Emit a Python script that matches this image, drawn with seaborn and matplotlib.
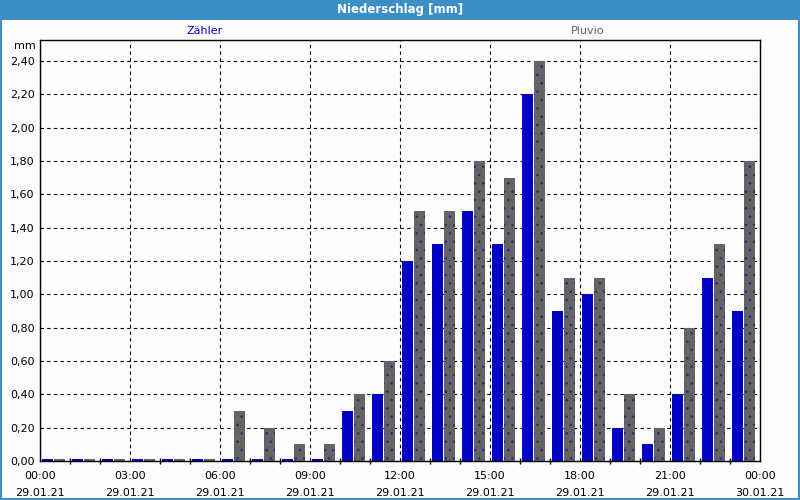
import matplotlib
matplotlib.use("Agg")
import matplotlib.pyplot as plt
from matplotlib.patches import Rectangle
from matplotlib.ticker import FixedLocator, MultipleLocator, FuncFormatter
import seaborn as sns
import pandas as pd
import numpy as np

# ---- data ----
hours = list(range(24))
zaehler = [0.01, 0.01, 0.01, 0.01, 0.01, 0.01, 0.01, 0.01, 0.01, 0.01,
           0.3, 0.4, 1.2, 1.3, 1.5, 1.3, 2.2, 0.9, 1.0, 0.2, 0.1, 0.4, 1.1, 0.9]
pluvio = [0.01, 0.01, 0.01, 0.01, 0.01, 0.01, 0.3, 0.2, 0.1, 0.1,
          0.4, 0.6, 1.5, 1.5, 1.8, 1.7, 2.4, 1.1, 1.1, 0.4, 0.2, 0.8, 1.3, 1.8]
series_names = ["Zähler", "Pluvio"]
tick_hours = [0, 3, 6, 9, 12, 15, 18, 21, 24]
tick_labels = ["00:00\n29.01.21", "03:00\n29.01.21", "06:00\n29.01.21",
               "09:00\n29.01.21", "12:00\n29.01.21", "15:00\n29.01.21",
               "18:00\n29.01.21", "21:00\n29.01.21", "00:00\n30.01.21"]
title = "Niederschlag [mm]"
unit = "mm"

BG = "#FBFCFB"
BLUE = "#0303C3"
GRAY = "#646464"
BAR_TITLE = "#3C8EC6"

df = pd.DataFrame({
    "pos": np.array(hours + hours, dtype=float) + 0.44,
    "value": zaehler + pluvio,
    "series": [series_names[0]] * 24 + [series_names[1]] * 24,
})

sns.set_theme(style="white")
plt.rcParams["font.family"] = ["DejaVu Sans"]
plt.rcParams["hatch.linewidth"] = 0.6

fig = plt.figure(figsize=(8, 5), dpi=100, facecolor=BG)
ax = fig.add_axes([0.05, 0.078, 0.90, 0.842])
ax.set_facecolor(BG)

sns.barplot(data=df, x="pos", y="value", hue="series", native_scale=True,
            palette=[BLUE, GRAY], width=0.8, dodge=True, gap=0.1, saturation=1,
            linewidth=0, legend=False, ax=ax, errorbar=None)

# dotted texture on the Pluvio bars
for bar in ax.containers[1]:
    bar.set_hatch("..")
    bar.set_edgecolor("#2A2A8A")
    bar.set_linewidth(0)

ax.set_xlim(0, 24)
ax.set_ylim(0, 2.526)
ax.set_xlabel("")
ax.set_ylabel("")

ax.xaxis.set_major_locator(FixedLocator(tick_hours))
ax.set_xticklabels(tick_labels)
ax.xaxis.set_minor_locator(MultipleLocator(1))
ax.yaxis.set_major_locator(MultipleLocator(0.2))
ax.yaxis.set_major_formatter(FuncFormatter(lambda v, p: f"{v:.2f}".replace(".", ",")))

ax.tick_params(axis="x", which="major", length=4, direction="inout", width=1,
               labelsize=8, color="black", labelcolor="black", pad=5)
ax.tick_params(axis="x", which="minor", length=4, direction="inout", width=1,
               color="black", bottom=True)
ax.tick_params(axis="y", which="major", length=0, labelsize=8,
               labelcolor="black", pad=4)
for lbl in ax.get_xticklabels():
    lbl.set_linespacing(1.9)

ax.grid(True, axis="both", which="major", color="black", linestyle=(0, (3, 3)),
        linewidth=0.8)
ax.set_axisbelow(True)
for s in ax.spines.values():
    s.set_visible(True)
    s.set_color("black")
    s.set_linewidth(1)

# title bar
fig.patches.append(Rectangle((0, 0.96), 1, 0.04, transform=fig.transFigure,
                             facecolor=BAR_TITLE, edgecolor="none", zorder=0))
fig.text(0.5, 0.98, title, ha="center", va="center", color="white",
         fontsize=8.5, fontweight="bold")
# border
fig.patches.append(Rectangle((0.001, 0.002), 0.998, 0.997, transform=fig.transFigure,
                             facecolor="none", edgecolor=BAR_TITLE, linewidth=1.5))

# legend as coloured text
fig.text(205 / 800, 1 - 31 / 500, series_names[0], ha="center", va="center",
         color=BLUE, fontsize=8)
fig.text(588 / 800, 1 - 31 / 500, series_names[1], ha="center", va="center",
         color=GRAY, fontsize=8)
fig.text(36 / 800, 1 - 46 / 500, unit, ha="right", va="center",
         color="black", fontsize=8)

fig.savefig("out.png", dpi=100, facecolor=BG)
